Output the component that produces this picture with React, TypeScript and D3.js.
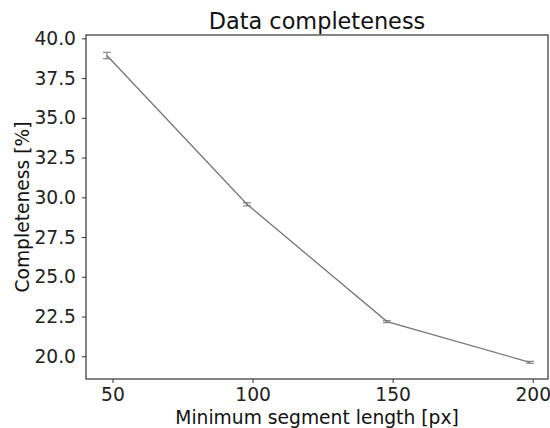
import * as d3 from "d3";
import React, { useEffect, useRef } from "react";

// values
const segLength = [48, 98, 148, 199];
const completeness = [38.92, 29.56, 22.18, 19.62];
const errors = [0.2, 0.1, 0.06, 0.06];
const xTicks = [50, 100, 150, 200];
const yTicks = [20.0, 22.5, 25.0, 27.5, 30.0, 32.5, 35.0, 37.5, 40.0];

function App() {
  const ref = useRef<SVGSVGElement>(null);

  useEffect(() => {
    const width = 550;
    const height = 428;
    const margin = { top: 35, left: 86, bottom: 49, right: 2 };
    const iwidth = width - margin.left - margin.right;
    const iheight = height - margin.top - margin.bottom;
    const font = "DejaVu Sans, sans-serif";

    const svg = d3.select(ref.current);
    svg.selectAll("*").remove();
    svg.attr("width", width).attr("height", height);

    const graph = svg.append("g").attr("transform", `translate(${margin.left}, ${margin.top})`);

    const x = d3.scaleLinear().domain([40.54, 205.46]).range([0, iwidth]);
    const y = d3.scaleLinear().domain([18.57, 40.21]).range([iheight, 0]);

    // x axis
    const xa = graph.append("g")
      .attr("transform", `translate(0, ${iheight})`)
      .call(d3.axisBottom(x).tickValues(xTicks).tickSize(4).tickPadding(5).tickFormat(d3.format("d")));
    xa.select(".domain").remove();
    xa.selectAll("text").attr("font-size", 18.7).attr("font-family", font).attr("fill", "#222");
    xa.selectAll("line").attr("stroke", "#333");

    // y axis
    const ya = graph.append("g")
      .call(d3.axisLeft(y).tickValues(yTicks).tickSize(4).tickPadding(6).tickFormat(d3.format(".1f")));
    ya.select(".domain").remove();
    ya.selectAll("text").attr("font-size", 18.7).attr("font-family", font).attr("fill", "#222");
    ya.selectAll("line").attr("stroke", "#333");

    // frame
    graph.append("rect")
      .attr("width", iwidth).attr("height", iheight)
      .attr("fill", "none").attr("stroke", "#333").attr("stroke-width", 1.2);

    const pts = segLength.map((s, i) => ({ x: s, y: completeness[i], e: errors[i] }));

    // error bars
    const eb = graph.selectAll("g.err").data(pts).enter().append("g").attr("class", "err");
    eb.append("line")
      .attr("x1", d => x(d.x)).attr("x2", d => x(d.x))
      .attr("y1", d => y(d.y - d.e)).attr("y2", d => y(d.y + d.e))
      .attr("stroke", "#888").attr("stroke-width", 1.2);
    [-1, 1].forEach(sgn => {
      eb.append("line")
        .attr("x1", d => x(d.x) - 4).attr("x2", d => x(d.x) + 4)
        .attr("y1", d => y(d.y + sgn * d.e)).attr("y2", d => y(d.y + sgn * d.e))
        .attr("stroke", "#888").attr("stroke-width", 1.2);
    });

    // line
    const line = d3.line<{ x: number; y: number }>().x(d => x(d.x)).y(d => y(d.y));
    graph.append("path")
      .datum(pts)
      .attr("d", line)
      .attr("fill", "none")
      .attr("stroke", "#777")
      .attr("stroke-width", 1.3);

    // title and labels
    svg.append("text")
      .attr("x", margin.left + iwidth / 2).attr("y", 29.3)
      .attr("text-anchor", "middle")
      .attr("font-size", 22.4).attr("font-family", font).attr("fill", "#111")
      .text("Data completeness");

    svg.append("text")
      .attr("x", margin.left + iwidth / 2).attr("y", 424)
      .attr("text-anchor", "middle")
      .attr("font-size", 18.7).attr("font-family", font).attr("fill", "#111")
      .text("Minimum segment length [px]");

    svg.append("text")
      .attr("transform", `translate(29, ${margin.top + iheight / 2}) rotate(-90)`)
      .attr("text-anchor", "middle")
      .attr("font-size", 18.7).attr("font-family", font).attr("fill", "#111")
      .text("Completeness [%]");
  }, []);

  return (
    <svg ref={ref} style={{ position: "absolute", left: 0, top: 0, background: "#fff" }}></svg>
  );
}

export default App;
